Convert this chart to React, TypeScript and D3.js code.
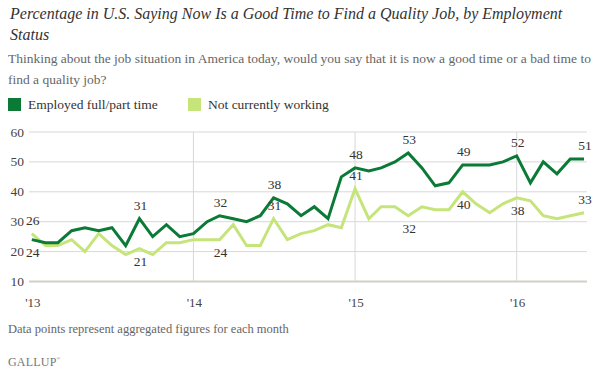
import React from "react";
import * as d3 from "d3";

const months: string[] = (() => {
  const out: string[] = [];
  for (let y = 2013; y <= 2016; y++) {
    for (let m = 1; m <= 12; m++) {
      if (y === 2016 && m > 6) break;
      out.push(`${y}-${String(m).padStart(2, "0")}`);
    }
  }
  return out;
})();

const employed: number[] = [
  24, 23, 23, 27, 28, 27, 28, 22, 31, 25, 29, 25,
  26, 30, 32, 31, 30, 32, 38, 36, 32, 35, 31, 45,
  48, 47, 48, 50, 53, 48, 42, 43, 49, 49, 49, 50,
  52, 43, 50, 46, 51, 51,
];

const notWorking: number[] = [
  26, 22, 22, 24, 20, 26, 22, 19, 21, 19, 23, 23,
  24, 24, 24, 29, 22, 22, 31, 24, 26, 27, 29, 28,
  41, 31, 35, 35, 32, 35, 34, 34, 40, 36, 33, 36,
  38, 37, 32, 31, 32, 33,
];

// labelled points: [series, month index, position]
const employedLabels: [number, number][] = [
  [0, 1], [8, -1], [14, -1], [18, -1], [24, -1], [28, -1], [32, -1], [36, -1], [41, -1],
];
const notWorkingLabels: [number, number][] = [
  [0, -1], [8, 1], [14, 1], [18, -1], [24, -1], [28, 1], [32, 1], [36, 1], [41, -1],
];

const yTicks: number[] = [10, 20, 30, 40, 50, 60];
const xTickLabels: string[] = ["'13", "'14", "'15", "'16"];
const xTickDates: string[] = ["2013-01", "2014-01", "2015-01", "2016-01"];

const title1 = "Percentage in U.S. Saying Now Is a Good Time to Find a Quality Job, by Employment";
const title2 = "Status";
const sub1 = "Thinking about the job situation in America today, would you say that it is now a good time or a bad time to";
const sub2 = "find a quality job?";
const legendNames: string[] = ["Employed full/part time", "Not currently working"];
const footnote = "Data points represent aggregated figures for each month";

const DARK = "#0a7a36";
const LIGHT = "#c5e47a";
const FONT = "'Liberation Serif', 'Times New Roman', serif";

export default function App() {
  const W = 594, H = 377;
  const parse = d3.timeParse("%Y-%m");
  const dates = months.map((m) => parse(m) as Date);
  const x = d3
    .scaleTime()
    .domain([parse("2013-01") as Date, parse("2016-06") as Date])
    .range([31.8, 584]);
  const y = d3.scaleLinear().domain([10, 60]).range([281.5, 132]);

  const line = d3
    .line<number>()
    .x((_, i) => x(dates[i]))
    .y((d) => y(d));

  return (
    <svg width={W} height={H} style={{ position: "absolute", left: 0, top: 0 }}>
      <rect width={W} height={H} fill="#fff" />
      <text x={10} y={18.5} fontFamily={FONT} fontStyle="italic" fontSize={16} fill="#333">
        {title1}
      </text>
      <text x={10} y={40} fontFamily={FONT} fontStyle="italic" fontSize={16} fill="#333">
        {title2}
      </text>
      <text x={8} y={63} fontFamily={FONT} fontSize={13.5} fill="#666">
        {sub1}
      </text>
      <text x={8} y={84} fontFamily={FONT} fontSize={13.5} fill="#666">
        {sub2}
      </text>
      {legendNames.map((n, i) => (
        <g key={n} transform={`translate(${i === 0 ? 8 : 188},98)`}>
          <rect width={13} height={13} fill={i === 0 ? DARK : LIGHT} />
          <text x={20} y={11} fontFamily={FONT} fontSize={13.5} fill="#333">
            {n}
          </text>
        </g>
      ))}
      {yTicks.map((t) => (
        <g key={t}>
          <line
            x1={29}
            x2={587}
            y1={y(t)}
            y2={y(t)}
            stroke={t === 10 ? "#d0d0c8" : "#d8d8d8"}
            strokeWidth={t === 10 ? 2 : 1}
          />
          <text x={24} y={y(t) + 4.5} textAnchor="end" fontFamily={FONT} fontSize={13.5} fill="#444">
            {t}
          </text>
        </g>
      ))}
      {xTickDates.map((d, i) => {
        const xx = x(parse(d) as Date);
        return (
          <g key={d}>
            {i > 0 && <line x1={xx} x2={xx} y1={132} y2={281} stroke="#d8d8d8" strokeWidth={1} />}
            <text x={xx + 1} y={307} textAnchor="middle" fontFamily={FONT} fontSize={13} fill="#444">
              {xTickLabels[i]}
            </text>
          </g>
        );
      })}
      <path d={line(notWorking) || ""} fill="none" stroke={LIGHT} strokeWidth={3} strokeLinejoin="miter" />
      <path d={line(employed) || ""} fill="none" stroke={DARK} strokeWidth={3} strokeLinejoin="miter" />
      {employedLabels.map(([i, pos]) => (
        <text
          key={"e" + i}
          x={x(dates[i]) + 1}
          y={y(employed[i]) + pos * 13 + 4.5}
          textAnchor="middle"
          fontFamily={FONT}
          fontSize={13.5}
          fill="#333"
        >
          {employed[i]}
        </text>
      ))}
      {notWorkingLabels.map(([i, pos]) => (
        <text
          key={"n" + i}
          x={x(dates[i]) + 1}
          y={y(notWorking[i]) + pos * 13 + 4.5}
          textAnchor="middle"
          fontFamily={FONT}
          fontSize={13.5}
          fill="#333"
        >
          {notWorking[i]}
        </text>
      ))}
      <text x={8} y={333} fontFamily={FONT} fontSize={12.5} fill="#666">
        {footnote}
      </text>
      <text x={8} y={366} fontFamily={FONT} fontSize={12} fill="#777" letterSpacing={0.2}>
        GALLUP
        <tspan fontSize={5} dy={-6}>®</tspan>
      </text>
    </svg>
  );
}
